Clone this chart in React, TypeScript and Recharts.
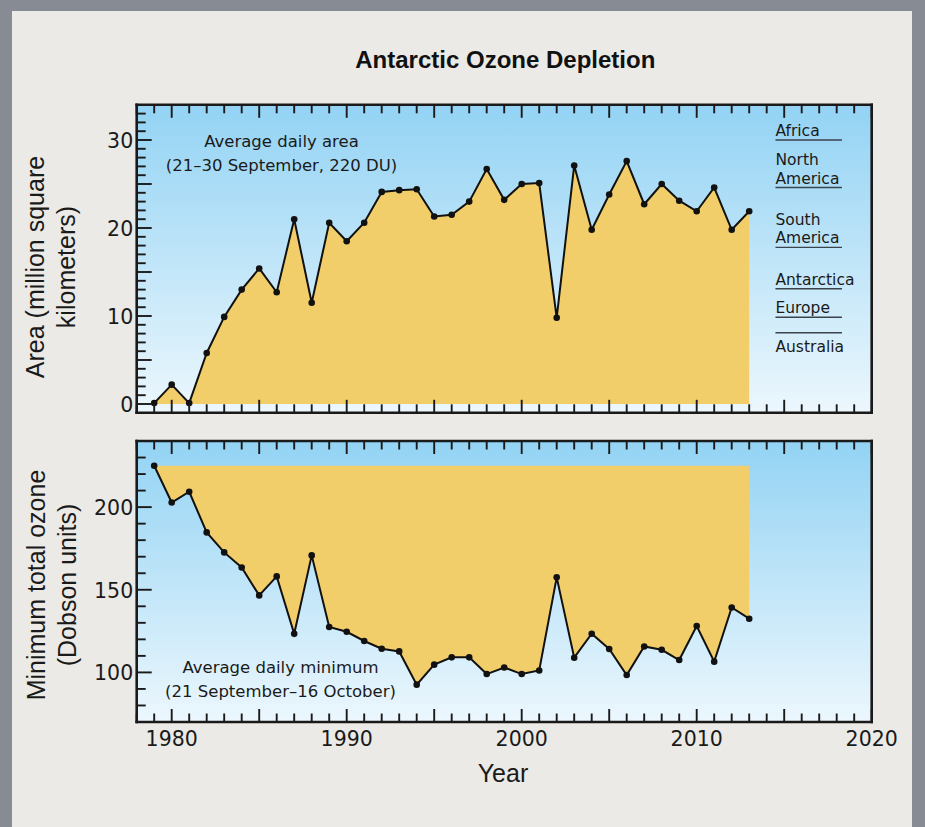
import React from 'react';
import { ComposedChart, Area, XAxis, YAxis, CartesianGrid, ReferenceLine } from 'recharts';

// years with a measurement
const years = [
  1979, 1980, 1981, 1982, 1983, 1984, 1985, 1986, 1987, 1988, 1989, 1990,
  1991, 1992, 1993, 1994, 1995, 1996, 1997, 1998, 1999, 2000, 2001, 2002,
  2003, 2004, 2005, 2006, 2007, 2008, 2009, 2010, 2011, 2012, 2013,
];

// average daily ozone hole area, million km2
const holeArea = [
  0.1, 2.2, 0.1, 5.8, 9.9, 13.0, 15.4, 12.7, 21.0, 11.5, 20.6, 18.5,
  20.6, 24.1, 24.3, 24.4, 21.3, 21.5, 23.0, 26.7, 23.2, 25.0, 25.1, 9.8,
  27.1, 19.8, 23.8, 27.6, 22.7, 25.0, 23.1, 21.9, 24.6, 19.8, 21.9,
];

// average daily minimum total ozone, Dobson units
const minOzone = [
  225.0, 202.8, 209.3, 184.7, 172.6, 163.5, 146.6, 158.1, 123.4, 170.8, 127.5, 124.6,
  119.0, 114.3, 112.7, 92.6, 104.7, 109.1, 109.1, 99.0, 103.0, 99.0, 101.2, 157.5,
  108.9, 123.4, 114.2, 98.4, 115.7, 113.7, 107.5, 128.1, 106.5, 139.3, 132.5,
];

const yearTicks = [
  1978, 1979, 1980, 1981, 1982, 1983, 1984, 1985, 1986, 1987, 1988, 1989, 1990,
  1991, 1992, 1993, 1994, 1995, 1996, 1997, 1998, 1999, 2000, 2001, 2002, 2003,
  2004, 2005, 2006, 2007, 2008, 2009, 2010, 2011, 2012, 2013, 2014, 2015, 2016,
  2017, 2018, 2019, 2020,
];
const areaTicks = [
  0, 1, 2, 3, 4, 5, 6, 7, 8, 9, 10, 11, 12, 13, 14, 15, 16, 17,
  18, 19, 20, 21, 22, 23, 24, 25, 26, 27, 28, 29, 30, 31, 32, 33,
];
const ozoneTicks = [80, 90, 100, 110, 120, 130, 140, 150, 160, 170, 180, 190, 200, 210, 220, 230];

// continent sizes for comparison (million km2)
const continents = ['Africa', 'North America', 'South America', 'Antarctica', 'Europe', 'Australia'];
const continentArea = [30.0, 24.6, 17.8, 13.1, 9.85, 8.1];

const rows = years.map((year, i) => ({ year, area: holeArea[i], ozone: minOzone[i] }));

const INK = '#1a1a1a';
const GOLD = '#f2ce6a';
const NUM_FONT = '"DejaVu Sans", sans-serif';
const TXT_FONT = '"Liberation Sans", Arial, sans-serif';
const border = { stroke: INK, strokeWidth: 2.6, strokeLinecap: 'square' as const };

const XTick = (props: any) => {
  const { x, y, payload, side, showLabel } = props;
  const v = payload.value;
  const len = v % 5 === 0 ? 13 : 8.5;
  const dir = side === 'bottom' ? -1 : 1;
  return (
    <g>
      <line x1={x} y1={y} x2={x} y2={y + dir * len} stroke={INK} strokeWidth={1.9} />
      {showLabel && v % 10 === 0 && (
        <text x={x} y={y + 24} textAnchor="middle" fontFamily={NUM_FONT} fontSize={20.5} fill={INK}>
          {v}
        </text>
      )}
    </g>
  );
};

const YTick = (props: any) => {
  const { x, y, payload, side, major, labelEvery } = props;
  const v = payload.value;
  const len = v % major === 0 ? 15 : 9;
  const dir = side === 'left' ? 1 : -1;
  return (
    <g>
      <line x1={x} y1={y} x2={x + dir * len} y2={y} stroke={INK} strokeWidth={1.9} />
      {labelEvery && v % labelEvery === 0 && (
        <text x={x - 3.5} y={y + 8} textAnchor="end" fontFamily={NUM_FONT} fontSize={20.5} fill={INK}>
          {v}
        </text>
      )}
    </g>
  );
};

const continentLabel = (name: string, below: boolean) => (props: any) => {
  const vb = props.viewBox || {};
  const x = vb.x ?? 0;
  const y = vb.y ?? 0;
  const parts = name === 'North America' || name === 'South America' ? name.split(' ') : [name];
  const lh = 18.5;
  const y0 = below ? y + 19 : y - 4 - (parts.length - 1) * lh;
  return (
    <text x={x} y={y0} fontFamily={NUM_FONT} fontSize={15.5} fill={INK}>
      {parts.map((p, i) => (
        <tspan key={p} x={x} dy={i === 0 ? 0 : lh}>
          {p}
        </tspan>
      ))}
    </text>
  );
};

const Sky = ({ id }: { id: string }) => (
  <defs>
    <linearGradient id={id} x1="0" y1="0" x2="0" y2="1">
      <stop offset="0%" stopColor="#93d3f4" />
      <stop offset="100%" stopColor="#ecf7fd" />
    </linearGradient>
  </defs>
);

const App = () => {
  return (
    <div style={{ position: 'absolute', left: 0, top: 0, width: 925, height: 827, background: '#878b94' }}>
      <div style={{ position: 'absolute', left: 12, top: 11, width: 900, height: 816, background: '#ebeae6' }} />

      <div style={{ position: 'absolute', left: 0, top: 0 }}>
        <ComposedChart width={925} height={430} data={rows} margin={{ top: 84.8, right: 13.3, bottom: 7.2, left: 96.7 }}>
          <Sky id="skyTop" />
          <CartesianGrid horizontal={false} vertical={false} fill="url(#skyTop)" />
          <Area
            type="linear"
            dataKey="area"
            baseValue={0}
            fill={GOLD}
            fillOpacity={1}
            stroke="#111"
            strokeWidth={2}
            dot={{ r: 3.3, fill: '#111', stroke: 'none' }}
            activeDot={false}
            isAnimationActive={false}
          />
          {continents.map((name, i) => (
            <ReferenceLine
              key={name}
              segment={[
                { x: 2014.5, y: continentArea[i] },
                { x: 2018.3, y: continentArea[i] },
              ]}
              stroke="#3a434c"
              strokeWidth={1.4}
              label={continentLabel(name, name === 'Australia')}
            />
          ))}
          <XAxis dataKey="year" type="number" domain={[1978, 2020]} ticks={yearTicks} interval={0} height={10}
            tickSize={0} tickMargin={0} tickLine={false} axisLine={border} tick={<XTick side="bottom" />} />
          <XAxis xAxisId="top" orientation="top" dataKey="year" type="number" domain={[1978, 2020]} ticks={yearTicks}
            interval={0} height={20} tickSize={0} tickMargin={0} tickLine={false} axisLine={border} tick={<XTick side="top" />} />
          <YAxis type="number" domain={[-1, 34]} ticks={areaTicks} interval={0} width={40} tickSize={0} tickMargin={0}
            tickLine={false} axisLine={border} tick={<YTick side="left" major={5} labelEvery={10} />} />
          <YAxis yAxisId="right" orientation="right" type="number" domain={[-1, 34]} ticks={areaTicks} interval={0}
            width={40} tickSize={0} tickMargin={0} tickLine={false} axisLine={border} tick={<YTick side="right" major={5} />} />
        </ComposedChart>
      </div>

      <div style={{ position: 'absolute', left: 0, top: 430 }}>
        <ComposedChart width={925} height={397} data={rows} margin={{ top: 1, right: 13.3, bottom: 75, left: 96.7 }}>
          <Sky id="skyBottom" />
          <CartesianGrid horizontal={false} vertical={false} fill="url(#skyBottom)" />
          <Area
            type="linear"
            dataKey="ozone"
            baseValue={225}
            fill={GOLD}
            fillOpacity={1}
            stroke="#111"
            strokeWidth={2}
            dot={{ r: 3.3, fill: '#111', stroke: 'none' }}
            activeDot={false}
            isAnimationActive={false}
          />
          <XAxis dataKey="year" type="number" domain={[1978, 2020]} ticks={yearTicks} interval={0} height={30}
            tickSize={0} tickMargin={0} tickLine={false} axisLine={border} tick={<XTick side="bottom" showLabel />} />
          <XAxis xAxisId="top" orientation="top" dataKey="year" type="number" domain={[1978, 2020]} ticks={yearTicks}
            interval={0} height={10} tickSize={0} tickMargin={0} tickLine={false} axisLine={border} tick={<XTick side="top" />} />
          <YAxis type="number" domain={[70, 240]} ticks={ozoneTicks} interval={0} width={40} tickSize={0} tickMargin={0}
            tickLine={false} axisLine={border} tick={<YTick side="left" major={50} labelEvery={50} />} />
          <YAxis yAxisId="right" orientation="right" type="number" domain={[70, 240]} ticks={ozoneTicks} interval={0}
            width={40} tickSize={0} tickMargin={0} tickLine={false} axisLine={border} tick={<YTick side="right" major={50} />} />
        </ComposedChart>
      </div>

      <svg width={925} height={827} style={{ position: 'absolute', left: 0, top: 0, pointerEvents: 'none' }}>
        <text x={505.3} y={68.3} textAnchor="middle" fontFamily={TXT_FONT} fontWeight="bold" fontSize={24} fill="#111">
          Antarctic Ozone Depletion
        </text>
        <g fontFamily={TXT_FONT} fontSize={25} fill={INK} textAnchor="middle">
          <text transform="translate(44 267) rotate(-90)">Area (million square</text>
          <text transform="translate(75 267) rotate(-90)">kilometers)</text>
          <text transform="translate(45 585) rotate(-90)">Minimum total ozone</text>
          <text transform="translate(76 585) rotate(-90)">(Dobson units)</text>
          <text x={503} y={782}>Year</text>
        </g>
        <g fontFamily={NUM_FONT} fontSize={16.5} fill={INK} textAnchor="middle">
          <text x={281.5} y={146.5}>Average daily area</text>
          <text x={281.5} y={171}>(21–30 September, 220 DU)</text>
          <text x={280.5} y={672.7}>Average daily minimum</text>
          <text x={280.5} y={696.7}>(21 September–16 October)</text>
        </g>
      </svg>
    </div>
  );
};

export default App;
